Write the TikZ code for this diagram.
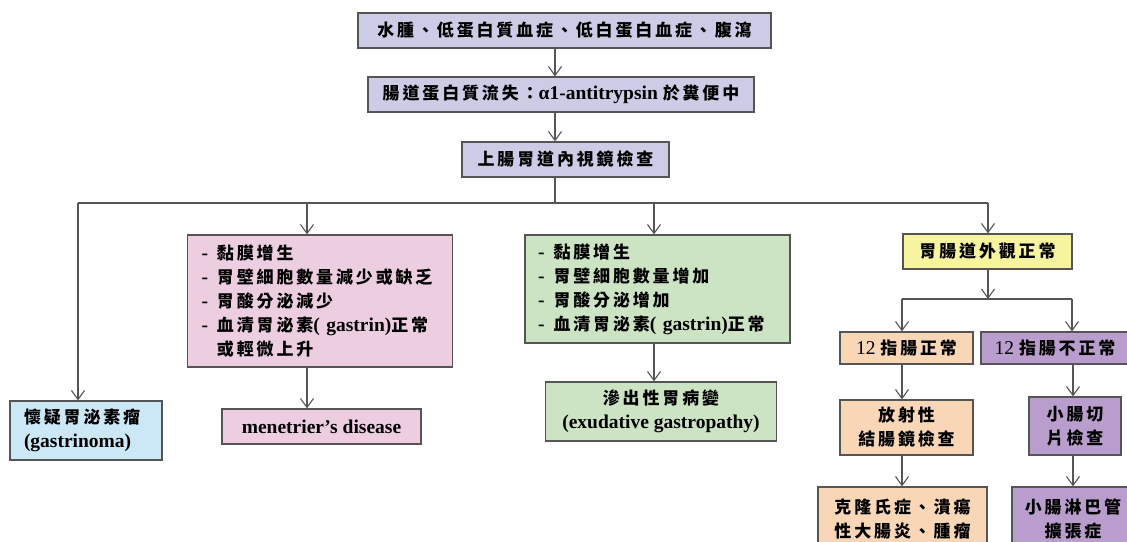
\documentclass[tikz,border=0pt]{standalone}
\usepackage{fontspec}
\setmainfont{Liberation Serif}
\newfontfamily\cjk{Noto Sans CJK TC}[Scale=0.87,LetterSpace=17]
\usetikzlibrary{arrows.meta}
\newcommand\C[1]{{\cjk #1}}
\newcommand\D{-\hspace{9pt}}
\definecolor{bd}{RGB}{85,85,85}
\definecolor{lav}{RGB}{205,204,230}
\definecolor{pnk}{RGB}{236,206,224}
\definecolor{grn}{RGB}{205,228,196}
\definecolor{lblue}{RGB}{204,232,246}
\definecolor{yel}{RGB}{247,244,160}
\definecolor{pch}{RGB}{249,214,182}
\definecolor{pur}{RGB}{185,157,204}
\tikzset{
  box/.style={draw=bd, line width=1.2pt, inner sep=0pt, align=center,
    font=\bfseries\fontsize{19.5}{24}\selectfont},
  arr/.style={draw=bd, line width=1.1pt, -{Straight Barb[length=9pt,width=13pt,line width=1.1pt]}},
  ln/.style={draw=bd, line width=1.1pt}
}
\begin{document}
\begin{tikzpicture}[x=1pt,y=-1pt]
\useasboundingbox (0,0) rectangle (1127,541);
\clip (0,0) rectangle (1127,541);
\fill[white] (0,0) rectangle (1127,541);

\node[box, fill=lav, minimum width=413pt, minimum height=35pt] (n1) at (564.5,30.5)
  {\C{水腫、低蛋白質血症、低白蛋白血症、腹瀉}};
\node[box, fill=lav, minimum width=386pt, minimum height=35pt] (n2) at (561,94.5)
  {\C{腸道蛋白質流失：}α1-antitrypsin \C{於糞便中}};
\node[box, fill=lav, minimum width=207pt, minimum height=35pt] (n3) at (565.5,159.5)
  {\C{上腸胃道內視鏡檢查}};

\node[box, fill=lblue, minimum width=152pt, minimum height=59pt, inner xsep=14pt, text width=124pt, align=left] (gas) at (86,430.5)
  {\C{懷疑胃泌素瘤}\\(gastrinoma)};

\node[box, fill=pnk, minimum width=265pt, minimum height=132pt, inner xsep=14pt, text width=237pt, align=left] (pink) at (320,301)
  {\D\C{黏膜增生}\\\D\C{胃壁細胞數量減少或缺乏}\\\D\C{胃酸分泌減少}\\\D\C{血清胃泌素}( gastrin)\C{正常}\\\phantom{\D}\C{或輕微上升}};
\node[box, fill=pnk, minimum width=199pt, minimum height=35pt] (men) at (321.5,426.5)
  {menetrier’s disease};

\node[box, fill=grn, minimum width=265pt, minimum height=108pt, inner xsep=13pt, text width=239pt, align=left] (green) at (657.5,289)
  {\D\C{黏膜增生}\\\D\C{胃壁細胞數量增加}\\\D\C{胃酸分泌增加}\\\D\C{血清胃泌素}( gastrin)\C{正常}};
\node[box, fill=grn, minimum width=231pt, minimum height=59pt] (exu) at (661,411.5)
  {\C{滲出性胃病變}\\(exudative gastropathy)};

\node[box, fill=yel, minimum width=169pt, minimum height=35pt] (yl) at (987.5,251.5)
  {\C{胃腸道外觀正常}};
\node[box, fill=pch, minimum width=133pt, minimum height=32pt] (d12n) at (906.5,348)
  {\mdseries 12 \bfseries\C{指腸正常}};
\node[box, fill=pur, minimum width=148pt, minimum height=32pt] (d12a) at (1055,348)
  {\mdseries 12 \bfseries\C{指腸不正常}};
\node[box, fill=pch, minimum width=133pt, minimum height=55pt] (rad) at (906.5,427.5)
  {\C{放射性}\\\C{結腸鏡檢查}};
\node[box, fill=pur, minimum width=92pt, minimum height=58pt] (sb) at (1075,426)
  {\C{小腸切}\\\C{片檢查}};
\node[box, fill=pch, minimum width=169pt, minimum height=65pt] (crohn) at (902.5,519.5)
  {\C{克隆氏症、潰瘍}\\\C{性大腸炎、腫瘤}};
\node[box, fill=pur, minimum width=122pt, minimum height=65pt] (lymph) at (1073,519.5)
  {\C{小腸淋巴管}\\\C{擴張症}};

% routing coordinates
\coordinate (sp) at (555,0);
\coordinate (hL) at (78,203);
\coordinate (hM) at (555,203);
\coordinate (dP) at (307,203);
\coordinate (dG) at (654,203);
\coordinate (hR) at (988,203);
\coordinate (bM) at (988,299);
\coordinate (bL) at (902,299);
\coordinate (bR) at (1072,299);
\coordinate (rR) at (1073,0);

\draw[arr] (n1.south -| sp) -- (n2.north -| sp);
\draw[arr] (n2.south -| sp) -- (n3.north -| sp);
\draw[ln] (n3.south -| sp) -- (hM);
\draw[ln] (hL) -- (hR);
\draw[arr] (hL) -- (gas.north -| hL);
\draw[arr] (dP) -- (pink.north -| dP);
\draw[arr] (dG) -- (green.north -| dG);
\draw[arr] (hR) -- (yl.north -| hR);
\draw[arr] (pink.south -| dP) -- (men.north -| dP);
\draw[arr] (green.south -| dG) -- (exu.north -| dG);
\draw[arr] (yl.south -| bM) -- (bM);
\draw[ln] (bL) -- (bR);
\draw[arr] (bL) -- (d12n.north -| bL);
\draw[arr] (bR) -- (d12a.north -| bR);
\draw[arr] (d12n.south -| bL) -- (rad.north -| bL);
\draw[arr] (rad.south -| bL) -- (crohn.north -| bL);
\draw[arr] (d12a.south -| rR) -- (sb.north -| rR);
\draw[arr] (sb.south -| rR) -- (lymph.north -| rR);
\end{tikzpicture}
\end{document}
